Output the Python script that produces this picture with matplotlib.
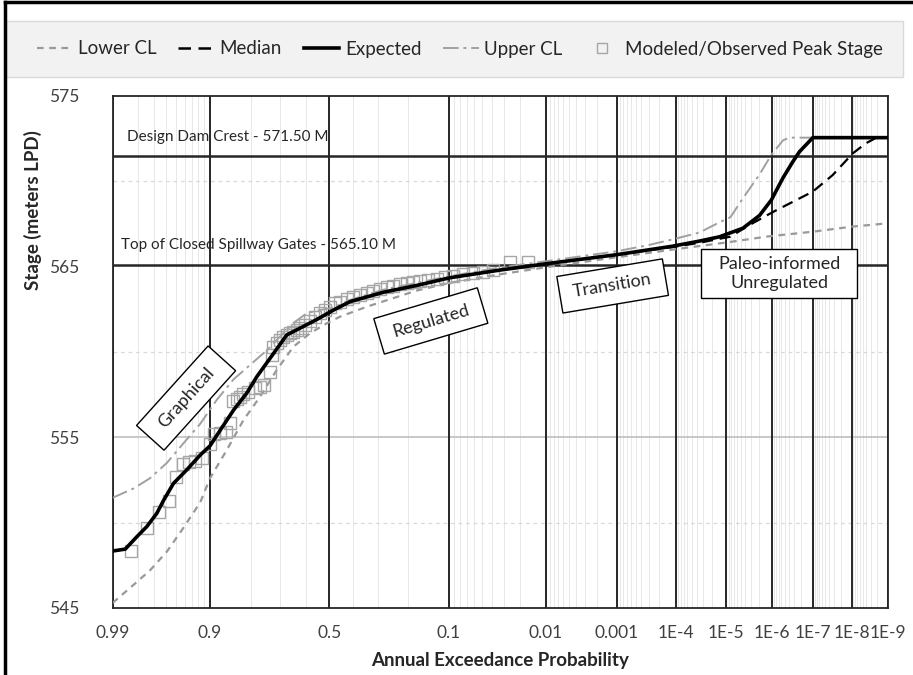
import numpy as np
import matplotlib
matplotlib.use("Agg")
import matplotlib.pyplot as plt
from matplotlib.patches import Rectangle
from matplotlib.lines import Line2D
from matplotlib.transforms import Affine2D
from statistics import NormalDist

plt.rcParams['font.family'] = ['Lato', 'DejaVu Sans']

# ---- data (annual exceedance probability, stage in m) ----
expected_aep = [0.99, 0.9858, 0.9806, 0.975, 0.968, 0.9625, 0.9529, 0.937, 0.917, 0.90,
                0.879, 0.848, 0.812, 0.782, 0.726, 0.676, 0.623, 0.554, 0.483, 0.412,
                0.281, 0.174, 0.0977, 0.0335, 0.0089, 0.00102, 1.13e-4, 3.5e-5, 1.39e-5,
                4.46e-6, 1.91e-6, 1.03e-6, 5.5e-7, 3.2e-7, 2.2e-7, 1.03e-7, 1e-9]
expected_stage = [548.34, 548.45, 549.18, 549.77, 550.55, 551.3, 552.3, 553.1, 553.97, 554.5,
                  555.43, 556.6, 557.6, 558.55, 559.9, 561.0, 561.4, 561.9, 562.45, 562.95,
                  563.5, 563.9, 564.35, 564.8, 565.2, 565.7, 566.2, 566.5, 566.75,
                  567.25, 568.0, 568.9, 570.2, 571.15, 571.74, 572.56, 572.56]

median_aep = [0.99, 0.9858, 0.9806, 0.975, 0.968, 0.9625, 0.9529, 0.937, 0.917, 0.90,
              0.879, 0.848, 0.812, 0.782, 0.726, 0.676, 0.623, 0.554, 0.483, 0.412,
              0.281, 0.174, 0.0977, 0.0335, 0.0089, 0.00102, 1.13e-4, 3.5e-5, 8.2e-6,
              3.2e-6, 9.5e-7, 3.2e-7, 1.03e-7, 3.2e-8, 9.4e-9, 4.1e-9, 2.1e-9, 1e-9]
median_stage = [548.34, 548.45, 549.18, 549.77, 550.55, 551.3, 552.3, 553.1, 553.97, 554.5,
                555.43, 556.6, 557.6, 558.55, 559.9, 561.0, 561.4, 561.9, 562.45, 562.95,
                563.5, 563.9, 564.35, 564.8, 565.2, 565.7, 566.15, 566.4, 566.76,
                567.44, 568.2, 568.8, 569.4, 570.37, 571.64, 572.23, 572.56, 572.56]

upper_aep = [0.99, 0.9823, 0.973, 0.9595, 0.9414, 0.917, 0.8865, 0.848, 0.8026, 0.749,
             0.7016, 0.650, 0.5957, 0.540, 0.483, 0.412, 0.281, 0.174, 0.0977, 0.0335,
             0.0089, 0.00102, 3.16e-4, 1.13e-4, 3.5e-5, 1.39e-5, 8.2e-6, 4.46e-6, 1.91e-6,
             1.03e-6, 5.5e-7, 3.9e-7, 1e-9]
upper_stage = [551.46, 552.0, 552.6, 553.5, 554.65, 555.8, 557.2, 558.4, 559.24, 560.1,
               560.9, 561.7, 562.27, 562.46, 562.6, 563.05, 563.65, 564.05, 564.45, 564.95,
               565.35, 565.9, 566.25, 566.6, 567.0, 567.6, 567.9, 569.0, 570.4,
               571.55, 572.4, 572.56, 572.56]

lower_aep = [0.99, 0.9823, 0.973, 0.9595, 0.9414, 0.917, 0.900, 0.8645, 0.822, 0.7715,
             0.7137, 0.650, 0.582, 0.511, 0.454, 0.344, 0.174, 0.0977, 0.0335, 0.0089,
             0.00102, 1.13e-4, 8.2e-6, 1.34e-6, 1.03e-7, 9.4e-9, 1e-9]
lower_stage = [545.3, 546.35, 547.2, 548.3, 549.7, 551.2, 552.6, 554.26, 556.0, 557.38,
               558.95, 560.31, 561.1, 561.68, 562.07, 562.65, 563.6, 564.05, 564.55, 565.0,
               565.55, 566.0, 566.45, 566.76, 567.05, 567.35, 567.54]

obs_aep = [0.9835, 0.9749, 0.9667, 0.9579, 0.95, 0.9421, 0.9334, 0.9252, 0.9145, 0.8997,
           0.8914, 0.8796, 0.8661, 0.8566, 0.8499, 0.8398, 0.831, 0.822, 0.8076, 0.7873,
           0.7715, 0.7583, 0.7377, 0.7317, 0.7261, 0.7137, 0.7016, 0.6893, 0.6762, 0.6635,
           0.6503, 0.6368, 0.6233, 0.603, 0.582, 0.561, 0.540, 0.5183, 0.497, 0.4757,
           0.4542, 0.4258, 0.3982, 0.3711, 0.3442, 0.3185, 0.2932, 0.269, 0.246, 0.224,
           0.2033, 0.1838, 0.1653, 0.1441, 0.1247, 0.1073, 0.0917, 0.0752, 0.0612, 0.0493,
           0.0392, 0.0261, 0.0164]
obs_stage = [548.36, 549.71, 550.6, 551.29, 552.66, 553.44, 553.55, 553.6, 553.77, 554.6,
             555.18, 555.27, 555.33, 555.86, 557.1, 557.25, 557.38, 557.52, 557.67, 557.87,
             557.97, 558.07, 558.85, 559.82, 560.31, 560.5, 560.7, 560.9, 561.0, 561.1,
             561.2, 561.3, 561.4, 561.6, 561.8, 562.07, 562.27, 562.46, 562.66, 562.85,
             562.95, 563.09, 563.24, 563.34, 563.47, 563.59, 563.69, 563.79, 563.89, 563.97,
             564.03, 564.1, 564.16, 564.22, 564.28, 564.38, 564.45, 564.57, 564.65, 564.7,
             564.8, 565.29, 565.29]

major_aep = [0.99, 0.9, 0.5, 0.1, 0.01, 1e-3, 1e-4, 1e-5, 1e-6, 1e-7, 1e-8, 1e-9]
major_labels = ['0.99', '0.9', '0.5', '0.1', '0.01', '0.001',
                '1E-4', '1E-5', '1E-6', '1E-7', '1E-8', '1E-9']
minor_aep = ([0.98, 0.97, 0.96, 0.95, 0.94, 0.93, 0.92, 0.91, 0.8, 0.7, 0.6, 0.4, 0.3, 0.2]
             + [m * 10.0 ** -k for k in range(2, 10) for m in range(2, 10)])

dam_crest = 571.5
spillway_top = 565.1

nd = NormalDist()


def to_x(p):
    # normal probability scale: exceedance probability -> standard normal deviate
    return np.array([-nd.inv_cdf(v) for v in np.atleast_1d(p)])


fig = plt.figure(figsize=(9.13, 6.75), dpi=100)
ax = fig.add_axes([112.7 / 913, 1 - 608 / 675, 775 / 913, 512 / 675])
ax.set_xlim(to_x(0.99)[0], to_x(1e-9)[0])
ax.set_ylim(545, 575)

# grid
for xm in to_x(minor_aep):
    ax.axvline(xm, color='#e8e8e8', lw=0.7, zorder=1)
for xm in to_x(major_aep):
    ax.axvline(xm, color='#262626', lw=1.4, zorder=2)
for yv in [550, 560, 570]:
    ax.axhline(yv, color='#d9d9d9', lw=0.9, ls=(0, (3, 3)), zorder=1)
ax.axhline(555, color='#bfbfbf', lw=1.2, zorder=1)
ax.axhline(dam_crest, color='#262626', lw=1.8, zorder=2)
ax.axhline(spillway_top, color='#262626', lw=1.8, zorder=2)

ax.text(to_x(0.985)[0], 572.62, 'Design Dam Crest - 571.50 M', fontsize=11,
        va='center', ha='left', color='#262626', zorder=3)
ax.text(to_x(0.9875)[0], 566.27, 'Top of Closed Spillway Gates - 565.10 M', fontsize=11,
        va='center', ha='left', color='#262626', zorder=3)

# curves
ax.plot(to_x(lower_aep), lower_stage, color='#999999', lw=1.6, ls=(0, (3, 2.5)), zorder=4)
ax.plot(to_x(upper_aep), upper_stage, color='#a0a0a0', lw=1.4, ls=(0, (8, 2.5, 1.5, 2.5)), zorder=4)
ax.plot(to_x(obs_aep), obs_stage, ls='none', marker='s', ms=8, mfc='none',
        mec='#a6a6a6', mew=1.0, zorder=4)
ax.plot(to_x(median_aep), median_stage, color='black', lw=1.6, ls=(0, (5, 3)), zorder=5)
ax.plot(to_x(expected_aep), expected_stage, color='black', lw=2.6, zorder=6)


def label_box(p, y, text, w, h, ang):
    x = to_x(p)[0]
    cx, cy = ax.transData.transform((x, y))
    tr = Affine2D().rotate_deg_around(cx, cy, ang)
    ax.add_patch(Rectangle((cx - w / 2, cy - h / 2), w, h, transform=tr, fc='white',
                           ec='black', lw=1.0, zorder=7, clip_on=False))
    ax.text(x, y, text, rotation=ang, rotation_mode='anchor', ha='center', va='center',
            fontsize=13, color='#262626', zorder=8, linespacing=1.2)


label_box(0.938, 557.3, 'Graphical', 107, 37, 48)
label_box(0.1377, 561.82, 'Regulated', 108, 37, 16.6)
label_box(0.00117, 563.87, 'Transition', 107, 37, 9.5)
label_box(6.8e-7, 564.59, 'Paleo-informed\nUnregulated', 156, 49, 0)

# axes styling
ax.set_xticks(to_x(major_aep))
ax.set_xticklabels(major_labels)
ax.set_yticks([545, 555, 565, 575])
ax.tick_params(length=0, labelsize=12.5, colors='#404040')
ax.tick_params(axis='x', pad=12)
ax.tick_params(axis='y', pad=24)
for s in ax.spines.values():
    s.set_color('#262626')
    s.set_linewidth(1.3)
ax.set_xlabel('Annual Exceedance Probability', fontsize=13.5, fontweight='bold',
              color='#262626', labelpad=8)
ax.set_ylabel('Stage (meters LPD)', fontsize=13.5, fontweight='bold', color='#262626')
ax.yaxis.set_label_coords(42 / 913, 1 - 210 / 675, transform=fig.transFigure)

# legend
fig.patches.append(Rectangle((6 / 913, 1 - 77 / 675), 897 / 913, 56 / 675,
                             transform=fig.transFigure, fc='#f2f2f2', ec='#d9d9d9', lw=1))
handles = [
    Line2D([], [], color='#999999', lw=1.6, ls=(0, (3, 2.5))),
    Line2D([], [], color='black', lw=1.8, ls=(0, (5, 3))),
    Line2D([], [], color='black', lw=2.6),
    Line2D([], [], color='#a0a0a0', lw=1.4, ls=(0, (8, 2.5, 1.5, 2.5))),
    Line2D([], [], ls='none', marker='s', ms=7, mfc='none', mec='#a6a6a6'),
]
labels = ['Lower CL', 'Median', 'Expected', 'Upper CL', 'Modeled/Observed Peak Stage']
fig.legend(handles, labels, loc='center', bbox_to_anchor=(460 / 913, 1 - 49 / 675),
           ncol=5, frameon=False, fontsize=13.5, handlelength=1.9, handletextpad=0.3,
           columnspacing=1.15, labelcolor='#262626')

# outer frame of the chart area
fig.add_artist(Line2D([5 / 913, 5 / 913], [0, 1 - 2 / 675], color='black', lw=2.5,
                      transform=fig.transFigure))
fig.add_artist(Line2D([5 / 913, 1], [1 - 2 / 675, 1 - 2 / 675], color='black', lw=2.5,
                      transform=fig.transFigure))

fig.savefig('out.png', dpi=100)
